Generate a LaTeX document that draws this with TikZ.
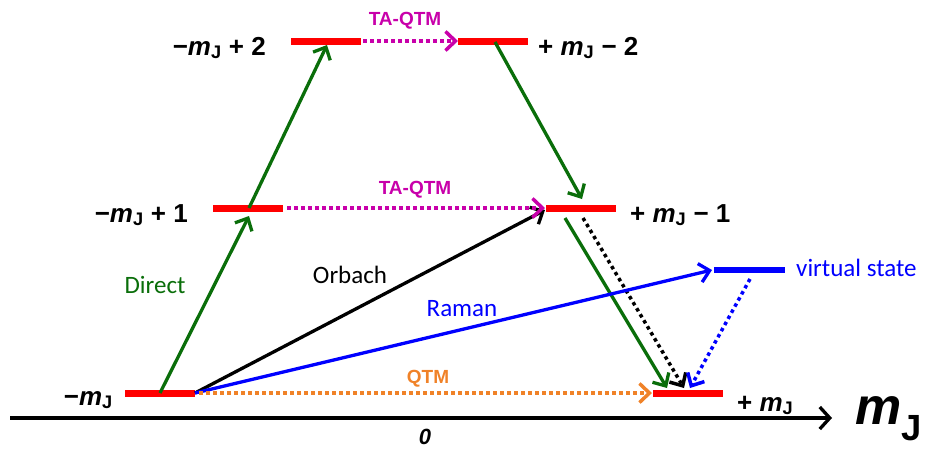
\documentclass[tikz,border=0pt]{standalone}
\usepackage{fontspec}
\setmainfont{Liberation Sans}
\newfontfamily\calib{Carlito}
\usetikzlibrary{arrows.meta}
\definecolor{dgreen}{RGB}{10,110,10}
\definecolor{mag}{RGB}{200,0,170}
\definecolor{orng}{RGB}{240,130,40}
\definecolor{lred}{RGB}{255,0,0}
\definecolor{vblue}{RGB}{0,0,255}
\tikzset{
  bar/.style={fill=lred,draw=none,minimum width=70pt,minimum height=7pt,inner sep=0pt,outer sep=0pt},
  vbar/.style={fill=vblue,draw=none,minimum width=71pt,minimum height=6pt,inner sep=0pt,outer sep=0pt},
  tip/.style={-{Straight Barb[length=10pt,width=19pt]}},
  solidarr/.style={tip,line width=3.3pt},
  dotarr/.style={tip,line width=3.5pt,dash pattern=on 3.5pt off 3.5pt},
  lev/.style={font=\bfseries\fontsize{26}{28}\selectfont,inner sep=0pt},
  proc/.style={font=\calib\fontsize{25}{27}\selectfont,inner sep=0pt},
  procb/.style={font=\bfseries\fontsize{19}{21}\selectfont,inner sep=0pt},
}
\begin{document}
\begin{tikzpicture}[x=1pt,y=-1pt]
\useasboundingbox (0,0) rectangle (937,448);
% axis
\coordinate (ax0) at (10,418);
\coordinate (ax1) at (832,418);
\draw[line width=3.3pt,-{Straight Barb[length=10pt,width=22pt]}] (ax0) -- (ax1);
\node[font=\bfseries\itshape\fontsize{52}{54}\selectfont,inner sep=0pt,anchor=base west] (mJ) at (855,424) {m\textsubscript{\upshape J}};
\node[font=\bfseries\itshape\fontsize{22}{24}\selectfont,inner sep=0pt,anchor=base] (zero) at (425,444) {0};
% bars
\node[bar] (L0) at (160,393) {};
\node[bar] (R0) at (688,393) {};
\node[bar] (L1) at (248,208) {};
\node[bar] (R1) at (581,208) {};
\node[bar] (L2) at (326,41) {};
\node[bar] (R2) at (493,41) {};
\node[vbar] (V) at (749,270) {};
% level labels
\node[lev,anchor=base east] (tL0) at (113,405) {−\textit{m}\textsubscript{J}};
\node[lev,anchor=base west] (tR0) at (737,411) {+ \textit{m}\textsubscript{J}};
\node[lev,anchor=base east] (tL1) at (188,222) {−\textit{m}\textsubscript{J} + 1};
\node[lev,anchor=base west] (tR1) at (630,222) {+ \textit{m}\textsubscript{J} − 1};
\node[lev,anchor=base east] (tL2) at (266,55) {−\textit{m}\textsubscript{J} + 2};
\node[lev,anchor=base west] (tR2) at (538,55) {+ \textit{m}\textsubscript{J} − 2};
\node[proc,text=vblue,anchor=west] (tV) at (796,268) {virtual state};
% connector end points
\coordinate (d0) at (160,393);
\coordinate (d1) at (249,216);
\coordinate (d2) at (249,208);
\coordinate (d3) at (327,45);
\coordinate (g0) at (495,42);
\coordinate (g1) at (582,199);
\coordinate (g2) at (565,218);
\coordinate (g3) at (667,388);
\coordinate (k0) at (583,218);
\coordinate (k1) at (684,388);
\coordinate (b0) at (750,279);
\coordinate (b1) at (690,388);
\coordinate (o0) at (195,393);
\coordinate (o1) at (545,210);
\coordinate (r1) at (712,270);
\coordinate (q0) at (199,393);
\coordinate (q1) at (652,393);
\coordinate (t10) at (287,208);
\coordinate (t11) at (545,208);
\coordinate (t20) at (363,41);
\coordinate (t21) at (458,41);
% processes
\draw[solidarr,dgreen] (d0) -- (d1);
\draw[solidarr,dgreen] (d2) -- (d3);
\draw[solidarr,dgreen] (g0) -- (g1);
\draw[dotarr,black] (k0) -- (k1);
\draw[solidarr,dgreen] (g2) -- (g3);
\draw[dotarr,vblue] (b0) -- (b1);
\draw[solidarr,black] (o0) -- (o1);
\draw[solidarr,vblue] (o0) -- (r1);
\draw[dotarr,orng] (q0) -- (q1);
\draw[dotarr,mag] (t10) -- (t11);
\draw[dotarr,mag] (t20) -- (t21);
% process labels
\node[proc,text=dgreen] (tD) at (155,285) {Direct};
\node[proc,text=black] (tO) at (350,275) {Orbach};
\node[proc,text=vblue] (tRa) at (462,309) {Raman};
\node[procb,text=orng] (tQ) at (428,379) {QTM};
\node[procb,text=mag] (tT1) at (415,190) {TA-QTM};
\node[procb,text=mag] (tT2) at (405,21) {TA-QTM};
\end{tikzpicture}
\end{document}
